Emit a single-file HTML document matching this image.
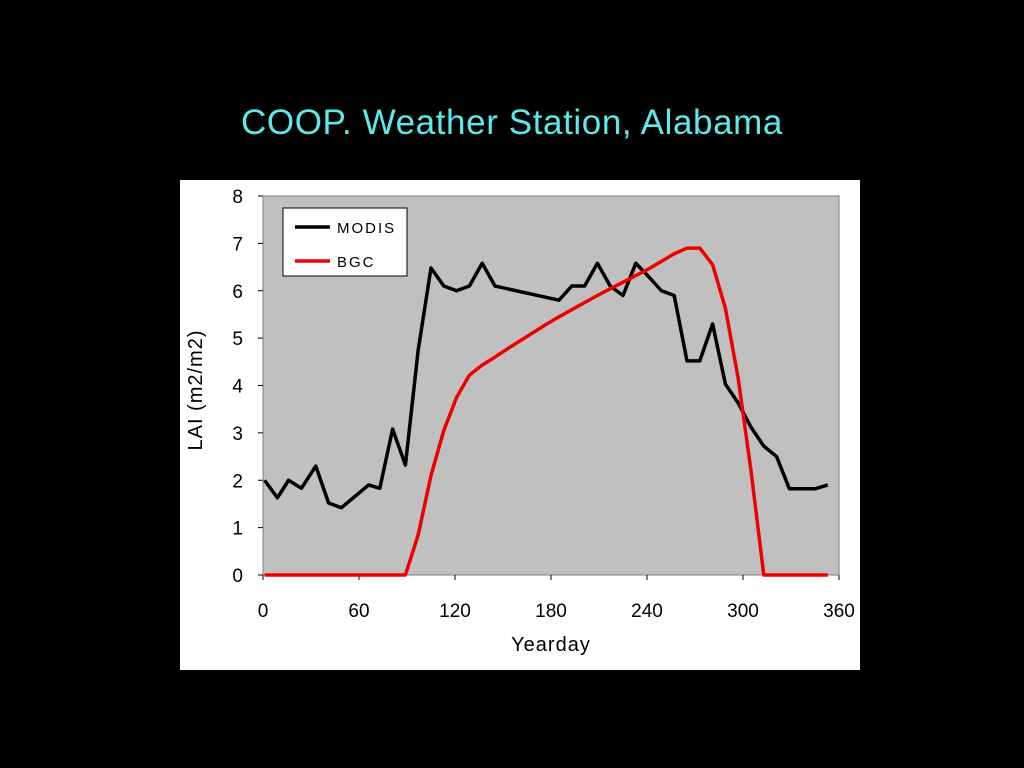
<!DOCTYPE html>
<html><head><meta charset="utf-8"><style>
html,body{margin:0;padding:0;background:#000;width:1024px;height:768px;overflow:hidden}
svg{display:block}
text{font-family:"Liberation Sans",sans-serif}
</style></head><body>
<svg id="chart" width="1024" height="768">
<text x="512" y="134" text-anchor="middle" fill="#5fe8e8" font-size="35" letter-spacing="0.6">COOP. Weather Station, Alabama</text>
<rect x="180" y="180" width="680" height="490" fill="#fff"/>
<rect x="263" y="196" width="576" height="379" fill="#c0c0c0" stroke="#808080" stroke-width="1"/>
<g id="axes"></g>
<g id="series"></g>
<g>
<rect x="283" y="208" width="124" height="68" fill="#fff" stroke="#000" stroke-width="1"/>
<line x1="295" y1="227" x2="330" y2="227" stroke="#000" stroke-width="3.5"/>
<text x="337" y="233" font-size="15" fill="#000" letter-spacing="2">MODIS</text>
<line x1="295" y1="261" x2="330" y2="261" stroke="#e00" stroke-width="3.5"/>
<text x="337" y="267" font-size="15" fill="#000" letter-spacing="2">BGC</text>
</g>
<text x="551" y="651" text-anchor="middle" font-size="20" fill="#000" letter-spacing="1">Yearday</text>
<text transform="translate(202,390) rotate(-90)" text-anchor="middle" font-size="20" fill="#000" letter-spacing="1">LAI (m2/m2)</text>
</svg>
<script>
const xTicks=[0,60,120,180,240,300,360];
const yTicks=[0,1,2,3,4,5,6,7,8];
const modisDays=[1,9,16,24,33,41,49,66,73,81,89,97,105,113,121,129,137,145,185,193,201,209,217,225,233,241,249,257,265,273,281,289,297,305,313,321,329,337,345,353];
const modisLAI=[2.0,1.63,2.0,1.83,2.3,1.52,1.42,1.9,1.83,3.08,2.32,4.75,6.48,6.1,6.0,6.1,6.58,6.1,5.8,6.1,6.1,6.58,6.1,5.9,6.58,6.3,6.0,5.9,4.52,4.52,5.3,4.03,3.63,3.12,2.72,2.5,1.82,1.82,1.82,1.9];
const bgcDays=[1,89,97,105,113,121,129,137,145,153,161,169,177,185,193,201,209,217,225,233,241,249,257,265,273,281,289,297,305,313,353];
const bgcLAI=[0,0,0.85,2.1,3.05,3.75,4.22,4.43,4.6,4.78,4.95,5.12,5.29,5.45,5.6,5.75,5.9,6.04,6.18,6.32,6.46,6.62,6.78,6.9,6.9,6.55,5.63,4.15,2.2,0,0];
const NS='http://www.w3.org/2000/svg';
const X=d=>263+d*1.6, Y=v=>575-v*47.375;
const axes=document.getElementById('axes'), series=document.getElementById('series');
function mk(tag,attrs,parent,txt){const e=document.createElementNS(NS,tag);for(const k in attrs)e.setAttribute(k,attrs[k]);if(txt!==undefined)e.textContent=txt;parent.appendChild(e);return e;}
xTicks.forEach(t=>{
 const l=mk('line',{x1:X(t),x2:X(t),y1:575,y2:580,stroke:'#000'},axes);
 
 
 const s=mk('text',{x:X(t),y:617,'text-anchor':'middle','font-size':19,fill:'#000'},axes,t);
 
 
});
yTicks.forEach(t=>{
 const l=mk('line',{x1:258,x2:263,y1:Y(t),y2:Y(t),stroke:'#000'},axes);
 
 
 const s=mk('text',{x:243,y:Y(t)+7,'text-anchor':'end','font-size':19,fill:'#000'},axes,t);
 
 
});
function line(days,vals,color,name){
 const p=mk('polyline',{points:days.map((d,i)=>X(d)+','+Y(vals[i])).join(' '),fill:'none',stroke:color,'stroke-width':3.5,'stroke-linejoin':'round'},series);
 
 
}
line(modisDays,modisLAI,'#000','modis-line');
line(bgcDays,bgcLAI,'#e00','bgc-line');
</script>
</body></html>
